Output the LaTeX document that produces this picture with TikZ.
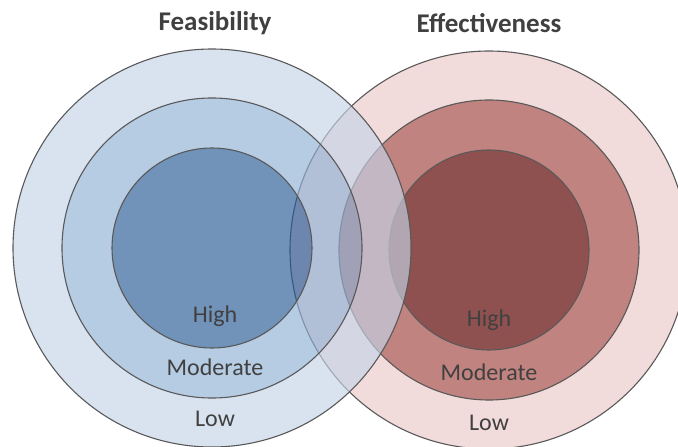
\documentclass[tikz,border=0pt]{standalone}
\usepackage{fontspec}
\setmainfont{Carlito}
\definecolor{edge}{HTML}{595959}
\definecolor{txt}{HTML}{404040}
\definecolor{rOut}{HTML}{F2DCDB}
\definecolor{rMid}{HTML}{C0837F}
\definecolor{rIn}{HTML}{8F5150}
\definecolor{bOut}{RGB}{198,212,232}
\definecolor{bMid}{RGB}{144,177,213}
\definecolor{bIn}{RGB}{37,89,149}
\tikzset{
  ringline/.style={draw=edge, line width=1.1pt},
  title/.style={font=\bfseries\fontsize{27}{31}\selectfont, text=txt},
  lvl/.style={font=\fontsize{24}{28}\selectfont, text=txt},
  bfill/.style={fill opacity=0.65, even odd rule}
}
\begin{document}
\begin{tikzpicture}[x=1pt,y=-1pt]
\useasboundingbox (0,0) rectangle (678,447);
\clip (0,0) rectangle (678,447);
\fill[white] (0,0) rectangle (678,447);
\coordinate (L) at (212,248);
\coordinate (R) at (489,250);
% red set (opaque, underneath)
\fill[rOut] (R) circle (199);
\fill[rMid] (R) circle (150);
\fill[rIn] (R) circle (100);
\draw[ringline] (R) circle (199);
\draw[ringline] (R) circle (150);
\draw[ringline] (R) circle (100);
% blue set (transparent, on top)
\fill[bOut, bfill] (L) circle (199) (L) circle (150);
\fill[bMid, bfill] (L) circle (150) (L) circle (100);
\fill[bIn, bfill] (L) circle (100);
\draw[ringline] (L) circle (199);
\draw[ringline] (L) circle (150);
\draw[ringline] (L) circle (100);
% texts
\node[title] (tf) at (215,23) {Feasibility};
\node[title] (te) at (489,23) {Effectiveness};
\node[lvl] (lh) at (215,316) {High};
\node[lvl] (lm) at (215,367) {Moderate};
\node[lvl] (ll) at (215,419) {Low};
\node[lvl] (rh) at (489,320) {High};
\node[lvl] (rm) at (489,372) {Moderate};
\node[lvl] (rl) at (489,423) {Low};
\end{tikzpicture}
\end{document}
